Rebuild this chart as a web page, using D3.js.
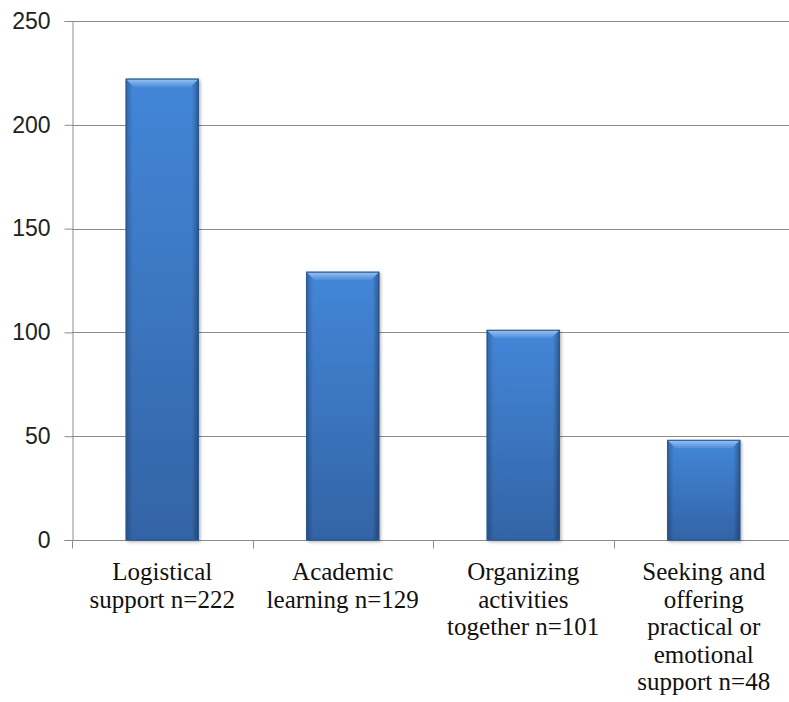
<!DOCTYPE html>
<html>
<head>
<meta charset="utf-8">
<script src="https://cdn.jsdelivr.net/npm/d3@7"></script>
<style>
  html, body { margin: 0; padding: 0; background: #fff; }
  svg { display: block; }
</style>
</head>
<body>
<svg id="chart" width="789" height="702"></svg>
<script>
// Category labels (wrapped lines) and counts
const categories = [
  ["Logistical", "support n=222"],
  ["Academic", "learning n=129"],
  ["Organizing", "activities", "together  n=101"],
  ["Seeking and", "offering", "practical or", "emotional", "support n=48"]
];
const values = [222, 129, 101, 48];
const yTicks = [0, 50, 100, 150, 200, 250];

const svg = d3.select("#chart");
const margin = { left: 72, top: 21, bottom: 540, right: 794 };

const x = d3.scaleBand()
  .domain(d3.range(values.length))
  .range([margin.left, margin.right])
  .paddingInner(0.6)
  .paddingOuter(0.3);

const y = d3.scaleLinear().domain([0, 250]).range([margin.bottom, margin.top]);

// gradients for the bevelled bars
const defs = svg.append("defs");
const gV = defs.append("linearGradient").attr("id", "barV")
  .attr("x1", 0).attr("y1", 0).attr("x2", 0).attr("y2", 1);
gV.append("stop").attr("offset", "0%").attr("stop-color", "#4386d8");
gV.append("stop").attr("offset", "100%").attr("stop-color", "#3364a6");

const gH = defs.append("linearGradient").attr("id", "barH")
  .attr("x1", 0).attr("y1", 0).attr("x2", 1).attr("y2", 0);
gH.append("stop").attr("offset", "0%").attr("stop-color", "#000").attr("stop-opacity", 0.22);
gH.append("stop").attr("offset", "9%").attr("stop-color", "#000").attr("stop-opacity", 0.0);
gH.append("stop").attr("offset", "91%").attr("stop-color", "#000").attr("stop-opacity", 0.0);
gH.append("stop").attr("offset", "100%").attr("stop-color", "#000").attr("stop-opacity", 0.3);

const gTop = defs.append("linearGradient").attr("id", "barTop")
  .attr("x1", 0).attr("y1", 0).attr("x2", 0).attr("y2", 1);
gTop.append("stop").attr("offset", "0%").attr("stop-color", "#a2c9f4");
gTop.append("stop").attr("offset", "100%").attr("stop-color", "#4c8cd9");

const shadow = defs.append("filter").attr("id", "shadow")
  .attr("x", "-10%").attr("y", "-10%").attr("width", "130%").attr("height", "130%");
shadow.append("feDropShadow").attr("dx", 1.5).attr("dy", 1.5)
  .attr("stdDeviation", 1.5).attr("flood-color", "#000").attr("flood-opacity", 0.3);

// gridlines
svg.append("g")
  .selectAll("line")
  .data(yTicks.filter(d => d > 0))
  .join("line")
  .attr("x1", margin.left).attr("x2", 789)
  .attr("y1", d => Math.round(y(d)) + 0.5).attr("y2", d => Math.round(y(d)) + 0.5)
  .attr("stroke", "#8c8c8c").attr("stroke-width", 1);

// y axis
const yAxis = svg.append("g")
  .attr("transform", `translate(${margin.left + 0.5},0)`)
  .call(d3.axisLeft(y).tickValues(yTicks).tickSize(8).tickPadding(14));
yAxis.select(".domain").attr("stroke", "#8c8c8c");
yAxis.selectAll(".tick line").attr("stroke", "#8c8c8c");
yAxis.attr("font-family", "'Liberation Sans', Arial, sans-serif").attr("font-size", 23);
yAxis.selectAll(".tick text").attr("fill", "#222");

// x axis with ticks at category boundaries
const xAxisG = svg.append("g");
const y0 = Math.round(y(0)) + 0.5;
xAxisG.append("line")
  .attr("x1", margin.left).attr("x2", 789)
  .attr("y1", y0).attr("y2", y0)
  .attr("stroke", "#8c8c8c");
const bounds = d3.range(values.length + 1).map(i => margin.left + i * x.step());
xAxisG.selectAll("line.tk")
  .data(bounds.filter(b => b < 789))
  .join("line").attr("class", "tk")
  .attr("x1", d => Math.round(d) + 0.5).attr("x2", d => Math.round(d) + 0.5)
  .attr("y1", y0).attr("y2", y0 + 8)
  .attr("stroke", "#8c8c8c");

// bars
const bars = svg.append("g").selectAll("g").data(values).join("g");
bars.append("rect")
  .attr("x", (d, i) => x(i)).attr("y", d => y(d))
  .attr("width", x.bandwidth()).attr("height", d => y(0) - y(d))
  .attr("fill", "url(#barV)")
  .attr("stroke", "#2a5a96").attr("stroke-width", 1)
  .attr("filter", "url(#shadow)");
bars.append("rect")
  .attr("x", (d, i) => x(i)).attr("y", d => y(d))
  .attr("width", x.bandwidth()).attr("height", d => y(0) - y(d))
  .attr("fill", "url(#barH)");
// top bevel
const bev = 8;
bars.append("path")
  .attr("d", (d, i) => {
    const x0 = x(i), x1 = x(i) + x.bandwidth(), t = y(d);
    return `M${x0},${t}L${x1},${t}L${x1 - bev},${t + bev}L${x0 + bev},${t + bev}Z`;
  })
  .attr("fill", "url(#barTop)").attr("opacity", 0.9);
bars.append("rect")
  .attr("x", (d, i) => x(i)).attr("y", d => y(d))
  .attr("width", x.bandwidth()).attr("height", d => y(0) - y(d))
  .attr("fill", "none").attr("stroke", "#2a5a96").attr("stroke-width", 1);

// category labels, centred under each band
const labels = svg.append("g")
  .attr("font-family", "'Liberation Serif', 'Times New Roman', serif")
  .attr("font-size", 25).attr("fill", "#111").attr("text-anchor", "middle")
  .style("white-space", "pre");
labels.selectAll("text").data(categories).join("text")
  .attr("x", (d, i) => x(i) + x.bandwidth() / 2)
  .attr("y", 580)
  .selectAll("tspan").data(d => d).join("tspan")
  .attr("x", function () { return d3.select(this.parentNode).attr("x"); })
  .attr("dy", (d, j) => j === 0 ? 0 : 27.5)
  .text(d => d);
</script>
</body>
</html>
